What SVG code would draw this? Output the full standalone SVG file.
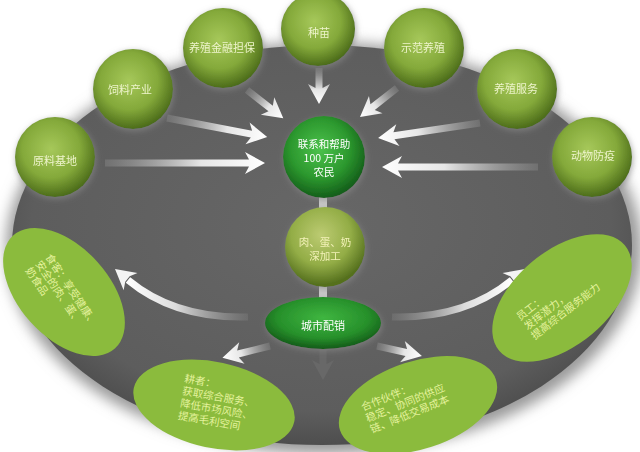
<svg xmlns="http://www.w3.org/2000/svg" width="640" height="452" viewBox="0 0 640 452">
<defs>
<style>
.t{font-family:"Noto Sans CJK SC","Noto Sans",sans-serif;font-size:11px;text-anchor:middle;dominant-baseline:central}
.s{font-size:10.5px}
.tn{fill:#eef4cc}
.tw{fill:#ffffff}
.ty{fill:#f3f2b8}
.e{font-family:"Noto Sans CJK SC","Noto Sans",sans-serif;font-size:10.5px;fill:#e4f29c}
.arr{fill:url(#arrG)}
.head{fill:#f4f4f4}
</style>
<radialGradient id="plate" cx="50%" cy="45%" r="55%">
<stop offset="0" stop-color="#676767"/><stop offset="0.85" stop-color="#5d5d5d"/><stop offset="1" stop-color="#4e4e4e"/>
</radialGradient>
<radialGradient id="olive" cx="45%" cy="40%" r="60%">
<stop offset="0" stop-color="#a6c85a"/><stop offset="0.6" stop-color="#84a93a"/><stop offset="1" stop-color="#4c6c1a"/>
</radialGradient>
<radialGradient id="green" cx="45%" cy="40%" r="60%">
<stop offset="0" stop-color="#4cc24c"/><stop offset="0.6" stop-color="#2c982e"/><stop offset="1" stop-color="#145e1a"/>
</radialGradient>
<radialGradient id="meat" cx="45%" cy="35%" r="62%">
<stop offset="0" stop-color="#bccb72"/><stop offset="0.6" stop-color="#93ad46"/><stop offset="1" stop-color="#55701e"/>
</radialGradient>
<radialGradient id="city" cx="50%" cy="40%" r="60%">
<stop offset="0" stop-color="#3fb640"/><stop offset="0.65" stop-color="#27902b"/><stop offset="1" stop-color="#135a18"/>
</radialGradient>
<linearGradient id="arrG" x1="0" y1="0" x2="1" y2="0">
<stop offset="0" stop-color="#9a9a9a" stop-opacity="0.3"/><stop offset="0.6" stop-color="#e6e6e6"/><stop offset="1" stop-color="#ffffff"/>
</linearGradient>
<linearGradient id="curveL" x1="1" y1="0" x2="0" y2="0">
<stop offset="0" stop-color="#9a9a9a" stop-opacity="0.2"/><stop offset="0.6" stop-color="#dcdcdc"/><stop offset="1" stop-color="#ffffff"/>
</linearGradient>
<linearGradient id="curveR" x1="0" y1="0" x2="1" y2="0">
<stop offset="0" stop-color="#9a9a9a" stop-opacity="0.2"/><stop offset="0.6" stop-color="#dcdcdc"/><stop offset="1" stop-color="#ffffff"/>
</linearGradient>
<filter id="soft" x="-20%" y="-20%" width="140%" height="140%">
<feGaussianBlur stdDeviation="7"/>
</filter>
<filter id="halo" x="-30%" y="-30%" width="160%" height="160%">
<feGaussianBlur in="SourceAlpha" stdDeviation="3" result="b"/>
<feOffset in="b" dx="1" dy="2" result="o"/>
<feFlood flood-color="#8a8a8a" flood-opacity="0.7"/>
<feComposite in2="o" operator="in" result="s"/>
<feMerge><feMergeNode in="s"/><feMergeNode in="SourceGraphic"/></feMerge>
</filter>
</defs>
<rect width="640" height="452" fill="#ffffff"/>
<ellipse cx="324" cy="248" rx="318" ry="206" fill="#9a9a9a" filter="url(#soft)"/>
<ellipse cx="322" cy="245" rx="310" ry="200" fill="url(#plate)"/>

<g id="connectors">
<rect x="319" y="195" width="8" height="14" fill="#c9c9c9"/>
<rect x="319" y="285" width="8" height="14" fill="#c9c9c9"/>
<g transform="translate(105,163)"><path class="arr" d="M0,-3.5 L144,-3.5 L140,-11 L160,0 L140,11 L144,3.5 L0,3.5 Z"/></g>
<g transform="translate(167,118) rotate(10.8)"><path class="arr" d="M0,-3.5 L86,-3.5 L82,-11 L102,0 L82,11 L86,3.5 L0,3.5 Z"/></g>
<g transform="translate(247,90) rotate(37.9)"><path class="arr" d="M0,-3.5 L30,-3.5 L26,-11 L46,0 L26,11 L30,3.5 L0,3.5 Z"/></g>
<g transform="translate(319,68) rotate(90)"><path class="arr" d="M0,-3.5 L20,-3.5 L16,-11 L36,0 L16,11 L20,3.5 L0,3.5 Z"/></g>
<g transform="translate(397,88) rotate(141.9)"><path class="arr" d="M0,-3.5 L31,-3.5 L27,-11 L47,0 L27,11 L31,3.5 L0,3.5 Z"/></g>
<g transform="translate(480,123) rotate(171.6)"><path class="arr" d="M0,-3.5 L87,-3.5 L83,-11 L103,0 L83,11 L87,3.5 L0,3.5 Z"/></g>
<g transform="translate(538,167) rotate(180)"><path class="arr" d="M0,-3.5 L140,-3.5 L136,-11 L156,0 L136,11 L140,3.5 L0,3.5 Z"/></g>
<path d="M248,317 Q175,319 128,280" fill="none" stroke="url(#curveL)" stroke-width="7"/>
<g transform="translate(115,269) rotate(-141)"><path class="head" d="M0,0 L-20,-11 L-16,-3.5 L-16,3.5 L-20,11 Z"/></g>
<path d="M392,317 Q465,319 512,280" fill="none" stroke="url(#curveR)" stroke-width="7"/>
<g transform="translate(525,269) rotate(-39)"><path class="head" d="M0,0 L-20,-11 L-16,-3.5 L-16,3.5 L-20,11 Z"/></g>
<g transform="translate(270,346) rotate(166)"><path class="arr" d="M0,-3.5 L33,-3.5 L29,-11 L49,0 L29,11 L33,3.5 L0,3.5 Z"/></g>
<g transform="translate(377,346) rotate(12.5)"><path class="arr" d="M0,-3.5 L30,-3.5 L26,-11 L46,0 L26,11 L30,3.5 L0,3.5 Z"/></g>
<g transform="translate(323,350) rotate(90)"><path d="M0,-3.5 L14,-3.5 L10,-11 L30,0 L10,11 L14,3.5 L0,3.5 Z" fill="#686868"/></g>
</g>

<g id="nodes">
<g id="hub" filter="url(#halo)"><circle cx="324" cy="157" r="41" fill="url(#green)"/>
<text class="t s tw" x="324" y="143">联系和帮助</text><text class="t s tw" x="324" y="157">100 万户</text><text class="t s tw" x="324" y="171">农民</text></g>
<g id="processing" filter="url(#halo)"><circle cx="325" cy="247" r="40" fill="url(#meat)"/>
<text class="t s ty" x="325" y="241">肉、蛋、奶</text><text class="t s ty" x="325" y="255">深加工</text></g>
<g id="distribution" filter="url(#halo)"><ellipse cx="323" cy="323" rx="58" ry="26" fill="url(#city)"/>
<text class="t tw" x="323" y="325">城市配销</text></g>

<g id="raw" filter="url(#halo)"><circle cx="55" cy="157" r="40" fill="url(#olive)"/><text class="t tn" x="55" y="160">原料基地</text></g>
<g id="feed" filter="url(#halo)"><circle cx="133" cy="89" r="40" fill="url(#olive)"/><text class="t tn" x="130" y="89">饲料产业</text></g>
<g id="finance" filter="url(#halo)"><circle cx="223" cy="48" r="40" fill="url(#olive)"/><text class="t tn" x="222" y="47">养殖金融担保</text></g>
<g id="seed" filter="url(#halo)"><circle cx="318" cy="29" r="37" fill="url(#olive)"/><text class="t tn" x="319" y="32">种苗</text></g>
<g id="demo" filter="url(#halo)"><circle cx="424" cy="48" r="40" fill="url(#olive)"/><text class="t tn" x="423" y="47">示范养殖</text></g>
<g id="service" filter="url(#halo)"><circle cx="517" cy="89" r="40" fill="url(#olive)"/><text class="t tn" x="516" y="88">养殖服务</text></g>
<g id="epidemic" filter="url(#halo)"><circle cx="592" cy="157" r="40" fill="url(#olive)"/><text class="t tn" x="593" y="155">动物防疫</text></g>

<g id="diners"><ellipse cx="64" cy="292" rx="76" ry="45" transform="rotate(48 64 292)" fill="#8bbb3d"/>
<g transform="translate(45,257) rotate(56)"><text class="e" x="0" y="0">食客：享受健康、</text><text class="e" x="0" y="12">安全的肉、蛋、</text><text class="e" x="0" y="24">奶食品</text></g></g>
<g id="staff"><ellipse cx="562" cy="298" rx="82" ry="47" transform="rotate(-40 562 298)" fill="#8bbb3d"/>
<g transform="translate(520,321) rotate(-38)"><text class="e" x="0" y="0">员工：</text><text class="e" x="0" y="12">发挥潜力，</text><text class="e" x="0" y="24">提高综合服务能力</text></g></g>
<g id="farmers"><ellipse cx="214" cy="405" rx="82" ry="43" transform="rotate(12 214 405)" fill="#8bbb3d"/>
<g transform="translate(184,382) rotate(10)"><text class="e" x="0" y="0">耕者：</text><text class="e" x="0" y="12.5">获取综合服务、</text><text class="e" x="0" y="25">降低市场风险、</text><text class="e" x="0" y="37.5">提高毛利空间</text></g></g>
<g id="partners"><ellipse cx="418" cy="405" rx="82" ry="44" transform="rotate(-18 418 405)" fill="#8bbb3d"/>
<g transform="translate(363,411) rotate(-22)"><text class="e" x="0" y="0">合作伙伴：</text><text class="e" x="0" y="12">稳定、协同的供应</text><text class="e" x="0" y="24">链、降低交易成本</text></g></g>
</g>
</svg>
